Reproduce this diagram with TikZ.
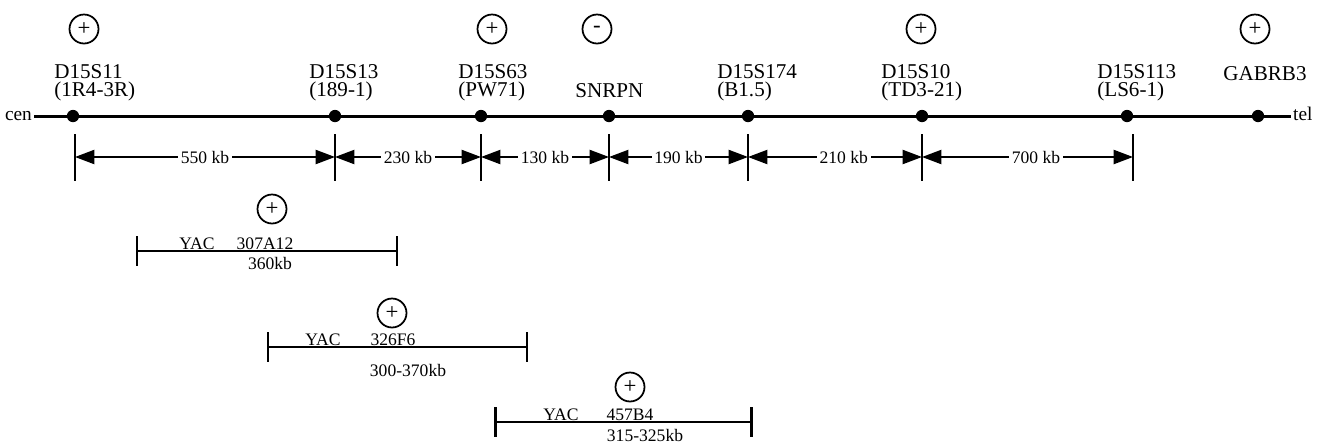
\documentclass[tikz,border=0pt]{standalone}
\usepackage{fontspec}
\setmainfont{Liberation Serif}
\usepackage{tikz}
\usetikzlibrary{arrows.meta,positioning}
\tikzset{
  chrom/.style={line width=1.7pt},
  locus/.style={circle, fill=black, inner sep=0pt, minimum size=7pt},
  endlbl/.style={font=\fontsize{11}{11}\selectfont, inner sep=1pt},
  marker/.style={anchor=north west, inner sep=0pt, align=left,
                 font=\fontsize{12}{10.5}\selectfont},
  sign/.style={circle, draw, line width=1pt, inner sep=0pt,
               minimum size=16.5pt, font=\fontsize{13}{13}\selectfont},
  tick/.style={line width=1.1pt},
  dist/.style={{Triangle[length=11pt,width=8pt]}-{Triangle[length=11pt,width=8pt]},
               line width=1.1pt},
  distlbl/.style={fill=white, inner sep=1.5pt, font=\fontsize{10}{10}\selectfont},
  yac/.style={{Bar[width=17pt]}-{Bar[width=17pt]}, line width=#1},
  yac/.default=1.1pt,
  yaclbl/.style={inner sep=0pt, font=\fontsize{10}{10}\selectfont},
}
\begin{document}
\begin{tikzpicture}[x=0.02cm, y=-0.02cm]
  \useasboundingbox (0,0) rectangle (1317,444);

  % chromosome line
  \node[endlbl, anchor=mid east] (cen) at (34,116) {cen};
  \node[endlbl, anchor=mid west] (tel) at (1291,116) {tel};
  \draw[chrom] (cen.mid east) -- (tel.mid west);

  % loci
  \node[locus] (s11)    at (73,116)   {};
  \node[locus] (s13)    at (335,116)  {};
  \node[locus] (s63)    at (481,116)  {};
  \node[locus] (snrpn)  at (609,116)  {};
  \node[locus] (s174)   at (748,116)  {};
  \node[locus] (s10)    at (922,116)  {};
  \node[locus] (s113)   at (1127,116) {};
  \node[locus] (gabrb3) at (1258,116) {};

  \node[marker] (l11)    at (54,64)   {D15S11\\(1R4-3R)};
  \node[marker] (l13)    at (309,64)  {D15S13\\(189-1)};
  \node[marker] (l63)    at (458,64)  {D15S63\\(PW71)};
  \node[marker] (lsnrpn) at (575,83)  {SNRPN};
  \node[marker] (l174)   at (717,64)  {D15S174\\(B1.5)};
  \node[marker] (l10)    at (881,64)  {D15S10\\(TD3-21)};
  \node[marker] (l113)   at (1097,64) {D15S113\\(LS6-1)};
  \node[marker] (lgab)   at (1223,66) {GABRB3};

  % probe results
  \node[sign] (p11)    at (84,29)   {+};
  \node[sign] (p63)    at (492,29)  {+};
  \node[sign] (msnrpn) at (597,29)  {-};
  \node[sign] (p10)    at (921,29)  {+};
  \node[sign] (pgab)   at (1255,29) {+};

  % physical distances
  \foreach \n/\x in {1/75,2/335,3/481,4/609,5/748,6/922,7/1133}{
    \coordinate (t\n) at (\x,157);
    \draw[tick] (\x,134) -- (\x,181);
  }
  \draw[dist] (t1) -- node[distlbl] {550 kb} (t2);
  \draw[dist] (t2) -- node[distlbl] {230 kb} (t3);
  \draw[dist] (t3) -- node[distlbl] {130 kb} (t4);
  \draw[dist] (t4) -- node[distlbl] {190 kb} (t5);
  \draw[dist] (t5) -- node[distlbl, pos=0.55] {210 kb} (t6);
  \draw[dist] (t6) -- node[distlbl, pos=0.54] {700 kb} (t7);

  % YAC clones
  \coordinate (a307) at (136,251);
  \coordinate (b307) at (398,251);
  \draw[yac] (a307) -- (b307);
  \node[yaclbl, anchor=base]  (y307) at (197,249) {YAC};
  \node[yaclbl, anchor=base]  (c307) at (265,249) {307A12};
  \node[yaclbl, anchor=north] (k307) at (270,257) {360kb};
  \node[sign] (p307) at (272,209) {+};

  \coordinate (a326) at (267,347);
  \coordinate (b326) at (528,347);
  \draw[yac] (a326) -- (b326);
  \node[yaclbl, anchor=base]  (y326) at (323,345) {YAC};
  \node[yaclbl, anchor=base]  (c326) at (393,345) {326F6};
  \node[yaclbl, anchor=north] (k326) at (408,364) {300-370kb};
  \node[sign] (p326) at (392,313) {+};

  \coordinate (a457) at (494,422);
  \coordinate (b457) at (753,422);
  \draw[yac=1.6pt] (a457) -- (b457);
  \node[yaclbl, anchor=base]  (y457) at (561,420) {YAC};
  \node[yaclbl, anchor=base]  (c457) at (630,420) {457B4};
  \node[yaclbl, anchor=north] (k457) at (645,429) {315-325kb};
  \node[sign] (p457) at (630,387) {+};
\end{tikzpicture}
\end{document}
